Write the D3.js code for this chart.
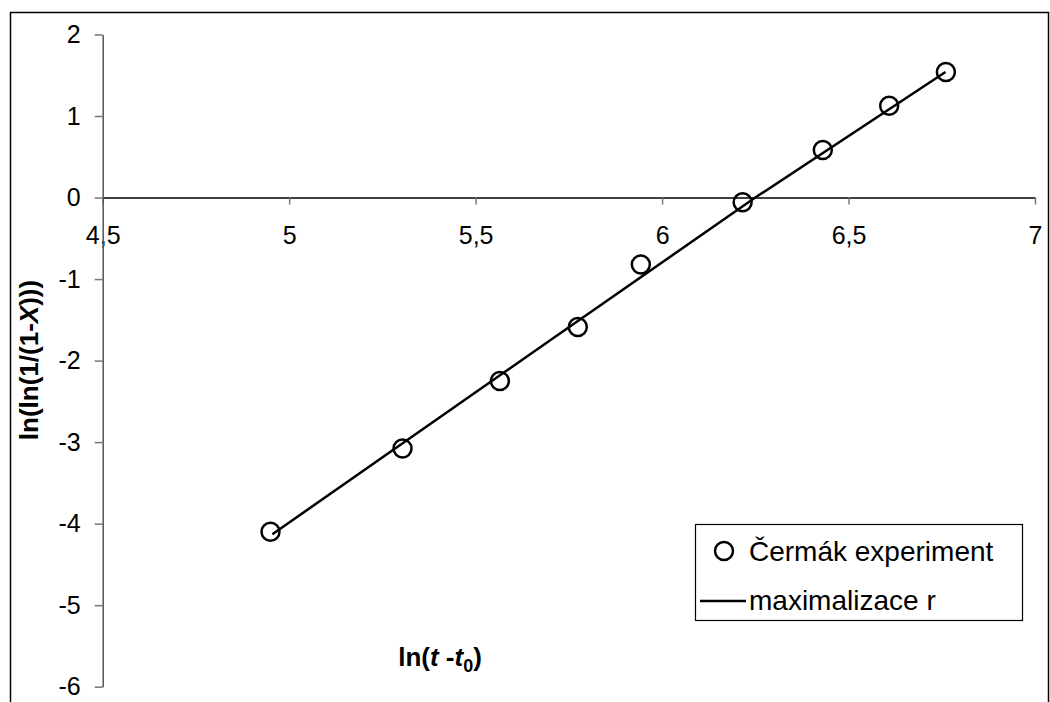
<!DOCTYPE html>
<html>
<head>
<meta charset="utf-8">
<script src="https://cdn.jsdelivr.net/npm/d3@7"></script>
<style>
  body { margin: 0; background: #fff; }
  svg { font-family: Arial, "Liberation Sans", sans-serif; }
</style>
</head>
<body>
<div id="chart-area"></div>
<script>
'use strict';

// experiment points (ln(t - t0), ln(ln(1/(1-X))))
let expX = [4.950, 5.304, 5.565, 5.774, 5.943, 6.216, 6.431, 6.609, 6.761];
let expY = [-4.10, -3.077, -2.25, -1.589, -0.82, -0.059, 0.583, 1.126, 1.54];

// model curve
let fitX = [4.955, 5.70, 6.25, 6.76];
let fitY = [-4.13, -1.75, 0.0, 1.54];

let xTicks = [4.5, 5, 5.5, 6, 6.5, 7];
let yTicks = [2, 1, 0, -1, -2, -3, -4, -5, -6];

let legendNames = ['Čermák experiment', 'maximalizace r'];

draw();

function draw() {
    let svg = d3.select('#chart-area').append('svg')
        .attr('width', 1050)
        .attr('height', 702);

    svg.append('rect')
        .attr('x', 10.5).attr('y', 12.5)
        .attr('width', 1038).attr('height', 700)
        .attr('fill', 'none')
        .attr('stroke', '#000')
        .attr('stroke-width', 1.5);

    let x = d3.scaleLinear()
        .domain([4.5, 7])
        .range([102.7, 1035]);

    let y = d3.scaleLinear()
        .domain([-6, 2])
        .range([686.7, 34.5]);

    let loc = d3.formatLocale({decimal: ',', thousands: ' ', grouping: [3], currency: ['', ''], minus: '-'});
    let fmt = loc.format('~g');

    // x axis at y = 0
    let xAxis = svg.append('g')
        .attr('transform', 'translate(0,' + y(0) + ')')
        .call(d3.axisBottom(x).tickValues(xTicks).tickFormat(fmt).tickSize(7).tickPadding(22).tickSizeOuter(0));
    xAxis.select('.domain').attr('stroke', '#000').attr('stroke-width', 1.5);
    xAxis.selectAll('.tick line').attr('stroke', '#777').attr('stroke-width', 1.5);
    xAxis.selectAll('.tick text').attr('font-size', 25).attr('fill', '#000').attr('font-family', 'Arial, "Liberation Sans", sans-serif');

    // y axis at x = 4.5
    let yAxis = svg.append('g')
        .attr('transform', 'translate(' + x(4.5) + ',0)')
        .call(d3.axisLeft(y).tickValues(yTicks).tickFormat(fmt).tickSize(8).tickPadding(14).tickSizeOuter(0));
    yAxis.select('.domain').attr('stroke', '#555').attr('stroke-width', 1.5);
    yAxis.selectAll('.tick line').attr('stroke', '#777').attr('stroke-width', 1.5);
    yAxis.selectAll('.tick text').attr('font-size', 25).attr('fill', '#000').attr('font-family', 'Arial, "Liberation Sans", sans-serif');

    // fitted line
    let line = d3.line()
        .x((d, i) => x(fitX[i]))
        .y((d, i) => y(fitY[i]));
    svg.append('path')
        .datum(fitX)
        .attr('d', line)
        .attr('fill', 'none')
        .attr('stroke', '#000')
        .attr('stroke-width', 2.5);

    // experiment circles
    svg.selectAll('circle.pt')
        .data(expX)
        .enter()
        .append('circle')
            .attr('class', 'pt')
            .attr('cx', (d) => x(d))
            .attr('cy', (d, i) => y(expY[i]))
            .attr('r', 9)
            .attr('fill', 'none')
            .attr('stroke', '#000')
            .attr('stroke-width', 2.5);

    // axis titles
    let xt = svg.append('text')
        .attr('x', 440)
        .attr('y', 666)
        .attr('text-anchor', 'middle')
        .attr('font-size', 26)
        .attr('font-weight', 'bold');
    xt.append('tspan').text('ln(');
    xt.append('tspan').attr('font-style', 'italic').text('t');
    xt.append('tspan').text(' -');
    xt.append('tspan').attr('font-style', 'italic').text('t');
    xt.append('tspan').attr('font-size', 18).attr('dy', 6).text('0');
    xt.append('tspan').attr('dy', -6).text(')');

    let yt = svg.append('text')
        .attr('transform', 'translate(38,360) rotate(-90)')
        .attr('text-anchor', 'middle')
        .attr('font-size', 26)
        .attr('font-weight', 'bold');
    yt.append('tspan').text('ln(ln(1/(1-');
    yt.append('tspan').attr('font-style', 'italic').text('X');
    yt.append('tspan').text(')))');

    // legend
    let lg = svg.append('g');
    lg.append('rect')
        .attr('x', 695.5).attr('y', 524.5)
        .attr('width', 327).attr('height', 96)
        .attr('fill', '#fff')
        .attr('stroke', '#000')
        .attr('stroke-width', 1.2);
    lg.append('circle')
        .attr('cx', 724).attr('cy', 551)
        .attr('r', 9)
        .attr('fill', 'none')
        .attr('stroke', '#000')
        .attr('stroke-width', 2.5);
    lg.append('line')
        .attr('x1', 700).attr('x2', 746)
        .attr('y1', 601).attr('y2', 601)
        .attr('stroke', '#000')
        .attr('stroke-width', 2.5);
    lg.selectAll('text')
        .data(legendNames)
        .enter()
        .append('text')
            .attr('x', 749)
            .attr('y', (d, i) => 561 + i * 49)
            .attr('font-size', 28)
            .text((d) => d);
}
</script>
</body>
</html>
